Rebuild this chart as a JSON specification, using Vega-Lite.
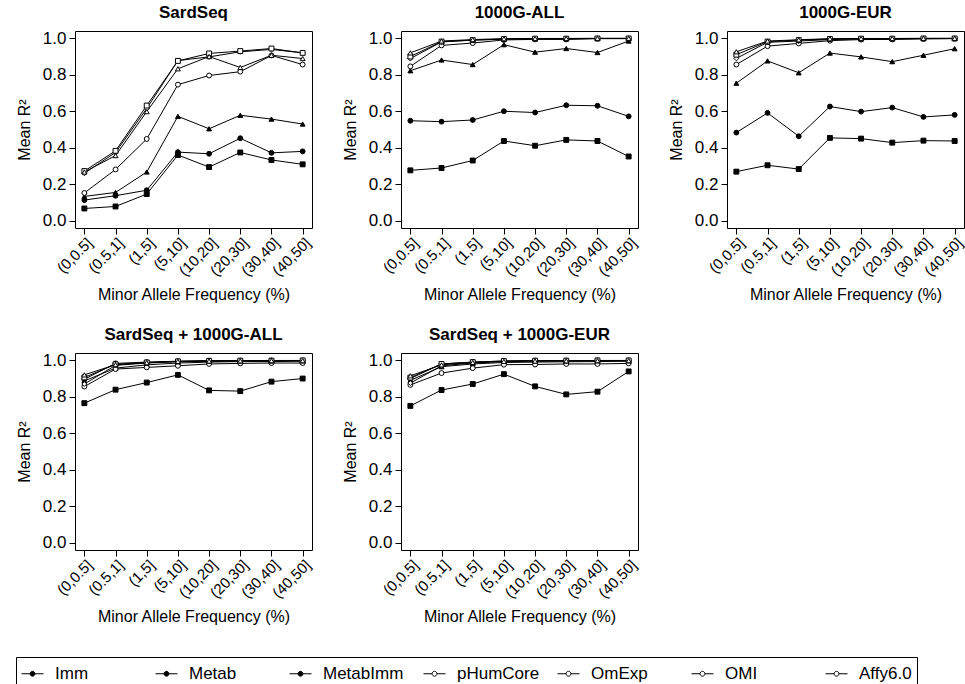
{
  "$schema": "https://vega.github.io/schema/vega-lite/v6.json",
  "padding": {"left": 15, "top": 3, "right": 2, "bottom": 0},
  "config": {
    "font": "Liberation Sans",
    "view": {"stroke": "black", "strokeWidth": 1},
    "axis": {"domain": false, "grid": false, "tickColor": "black", "tickSize": 6, "labelColor": "black", "titleColor": "black", "labelFontSize": 17, "titleFontSize": 16, "titleFontWeight": "normal", "labelPadding": 3},
    "header": {"labelColor": "black"}
  },
  "data": {"values": [
    {"p":"SardSeq","s":"Imm","f":"(0,0.5]","v":0.067},{"p":"SardSeq","s":"Imm","f":"(0.5,1]","v":0.078},{"p":"SardSeq","s":"Imm","f":"(1,5]","v":0.146},{"p":"SardSeq","s":"Imm","f":"(5,10]","v":0.36},{"p":"SardSeq","s":"Imm","f":"(10,20]","v":0.294},{"p":"SardSeq","s":"Imm","f":"(20,30]","v":0.374},{"p":"SardSeq","s":"Imm","f":"(30,40]","v":0.333},{"p":"SardSeq","s":"Imm","f":"(40,50]","v":0.309},
    {"p":"SardSeq","s":"Metab","f":"(0,0.5]","v":0.113},{"p":"SardSeq","s":"Metab","f":"(0.5,1]","v":0.137},{"p":"SardSeq","s":"Metab","f":"(1,5]","v":0.167},{"p":"SardSeq","s":"Metab","f":"(5,10]","v":0.376},{"p":"SardSeq","s":"Metab","f":"(10,20]","v":0.367},{"p":"SardSeq","s":"Metab","f":"(20,30]","v":0.452},{"p":"SardSeq","s":"Metab","f":"(30,40]","v":0.372},{"p":"SardSeq","s":"Metab","f":"(40,50]","v":0.38},
    {"p":"SardSeq","s":"MetabImm","f":"(0,0.5]","v":0.133},{"p":"SardSeq","s":"MetabImm","f":"(0.5,1]","v":0.155},{"p":"SardSeq","s":"MetabImm","f":"(1,5]","v":0.267},{"p":"SardSeq","s":"MetabImm","f":"(5,10]","v":0.572},{"p":"SardSeq","s":"MetabImm","f":"(10,20]","v":0.504},{"p":"SardSeq","s":"MetabImm","f":"(20,30]","v":0.578},{"p":"SardSeq","s":"MetabImm","f":"(30,40]","v":0.557},{"p":"SardSeq","s":"MetabImm","f":"(40,50]","v":0.53},
    {"p":"SardSeq","s":"pHumCore","f":"(0,0.5]","v":0.152},{"p":"SardSeq","s":"pHumCore","f":"(0.5,1]","v":0.281},{"p":"SardSeq","s":"pHumCore","f":"(1,5]","v":0.448},{"p":"SardSeq","s":"pHumCore","f":"(5,10]","v":0.746},{"p":"SardSeq","s":"pHumCore","f":"(10,20]","v":0.796},{"p":"SardSeq","s":"pHumCore","f":"(20,30]","v":0.817},{"p":"SardSeq","s":"pHumCore","f":"(30,40]","v":0.906},{"p":"SardSeq","s":"pHumCore","f":"(40,50]","v":0.856},
    {"p":"SardSeq","s":"OmExp","f":"(0,0.5]","v":0.26},{"p":"SardSeq","s":"OmExp","f":"(0.5,1]","v":0.374},{"p":"SardSeq","s":"OmExp","f":"(1,5]","v":0.615},{"p":"SardSeq","s":"OmExp","f":"(5,10]","v":0.878},{"p":"SardSeq","s":"OmExp","f":"(10,20]","v":0.898},{"p":"SardSeq","s":"OmExp","f":"(20,30]","v":0.926},{"p":"SardSeq","s":"OmExp","f":"(30,40]","v":0.939},{"p":"SardSeq","s":"OmExp","f":"(40,50]","v":0.92},
    {"p":"SardSeq","s":"OMI","f":"(0,0.5]","v":0.272},{"p":"SardSeq","s":"OMI","f":"(0.5,1]","v":0.383},{"p":"SardSeq","s":"OMI","f":"(1,5]","v":0.631},{"p":"SardSeq","s":"OMI","f":"(5,10]","v":0.876},{"p":"SardSeq","s":"OMI","f":"(10,20]","v":0.917},{"p":"SardSeq","s":"OMI","f":"(20,30]","v":0.93},{"p":"SardSeq","s":"OMI","f":"(30,40]","v":0.944},{"p":"SardSeq","s":"OMI","f":"(40,50]","v":0.92},
    {"p":"SardSeq","s":"Affy6.0","f":"(0,0.5]","v":0.267},{"p":"SardSeq","s":"Affy6.0","f":"(0.5,1]","v":0.357},{"p":"SardSeq","s":"Affy6.0","f":"(1,5]","v":0.598},{"p":"SardSeq","s":"Affy6.0","f":"(5,10]","v":0.833},{"p":"SardSeq","s":"Affy6.0","f":"(10,20]","v":0.9},{"p":"SardSeq","s":"Affy6.0","f":"(20,30]","v":0.84},{"p":"SardSeq","s":"Affy6.0","f":"(30,40]","v":0.907},{"p":"SardSeq","s":"Affy6.0","f":"(40,50]","v":0.889},

    {"p":"1000G-ALL","s":"Imm","f":"(0,0.5]","v":0.276},{"p":"1000G-ALL","s":"Imm","f":"(0.5,1]","v":0.289},{"p":"1000G-ALL","s":"Imm","f":"(1,5]","v":0.33},{"p":"1000G-ALL","s":"Imm","f":"(5,10]","v":0.437},{"p":"1000G-ALL","s":"Imm","f":"(10,20]","v":0.411},{"p":"1000G-ALL","s":"Imm","f":"(20,30]","v":0.443},{"p":"1000G-ALL","s":"Imm","f":"(30,40]","v":0.437},{"p":"1000G-ALL","s":"Imm","f":"(40,50]","v":0.352},
    {"p":"1000G-ALL","s":"Metab","f":"(0,0.5]","v":0.548},{"p":"1000G-ALL","s":"Metab","f":"(0.5,1]","v":0.543},{"p":"1000G-ALL","s":"Metab","f":"(1,5]","v":0.552},{"p":"1000G-ALL","s":"Metab","f":"(5,10]","v":0.6},{"p":"1000G-ALL","s":"Metab","f":"(10,20]","v":0.593},{"p":"1000G-ALL","s":"Metab","f":"(20,30]","v":0.633},{"p":"1000G-ALL","s":"Metab","f":"(30,40]","v":0.63},{"p":"1000G-ALL","s":"Metab","f":"(40,50]","v":0.572},
    {"p":"1000G-ALL","s":"MetabImm","f":"(0,0.5]","v":0.822},{"p":"1000G-ALL","s":"MetabImm","f":"(0.5,1]","v":0.881},{"p":"1000G-ALL","s":"MetabImm","f":"(1,5]","v":0.856},{"p":"1000G-ALL","s":"MetabImm","f":"(5,10]","v":0.965},{"p":"1000G-ALL","s":"MetabImm","f":"(10,20]","v":0.924},{"p":"1000G-ALL","s":"MetabImm","f":"(20,30]","v":0.944},{"p":"1000G-ALL","s":"MetabImm","f":"(30,40]","v":0.922},{"p":"1000G-ALL","s":"MetabImm","f":"(40,50]","v":0.985},
    {"p":"1000G-ALL","s":"pHumCore","f":"(0,0.5]","v":0.846},{"p":"1000G-ALL","s":"pHumCore","f":"(0.5,1]","v":0.961},{"p":"1000G-ALL","s":"pHumCore","f":"(1,5]","v":0.974},{"p":"1000G-ALL","s":"pHumCore","f":"(5,10]","v":0.991},{"p":"1000G-ALL","s":"pHumCore","f":"(10,20]","v":0.994},{"p":"1000G-ALL","s":"pHumCore","f":"(20,30]","v":0.994},{"p":"1000G-ALL","s":"pHumCore","f":"(30,40]","v":0.998},{"p":"1000G-ALL","s":"pHumCore","f":"(40,50]","v":0.998},
    {"p":"1000G-ALL","s":"OmExp","f":"(0,0.5]","v":0.889},{"p":"1000G-ALL","s":"OmExp","f":"(0.5,1]","v":0.98},{"p":"1000G-ALL","s":"OmExp","f":"(1,5]","v":0.99},{"p":"1000G-ALL","s":"OmExp","f":"(5,10]","v":0.995},{"p":"1000G-ALL","s":"OmExp","f":"(10,20]","v":0.997},{"p":"1000G-ALL","s":"OmExp","f":"(20,30]","v":0.997},{"p":"1000G-ALL","s":"OmExp","f":"(30,40]","v":0.999},{"p":"1000G-ALL","s":"OmExp","f":"(40,50]","v":0.999},
    {"p":"1000G-ALL","s":"OMI","f":"(0,0.5]","v":0.9},{"p":"1000G-ALL","s":"OMI","f":"(0.5,1]","v":0.982},{"p":"1000G-ALL","s":"OMI","f":"(1,5]","v":0.99},{"p":"1000G-ALL","s":"OMI","f":"(5,10]","v":0.996},{"p":"1000G-ALL","s":"OMI","f":"(10,20]","v":0.998},{"p":"1000G-ALL","s":"OMI","f":"(20,30]","v":0.998},{"p":"1000G-ALL","s":"OMI","f":"(30,40]","v":0.999},{"p":"1000G-ALL","s":"OMI","f":"(40,50]","v":0.999},
    {"p":"1000G-ALL","s":"Affy6.0","f":"(0,0.5]","v":0.92},{"p":"1000G-ALL","s":"Affy6.0","f":"(0.5,1]","v":0.985},{"p":"1000G-ALL","s":"Affy6.0","f":"(1,5]","v":0.993},{"p":"1000G-ALL","s":"Affy6.0","f":"(5,10]","v":0.998},{"p":"1000G-ALL","s":"Affy6.0","f":"(10,20]","v":0.999},{"p":"1000G-ALL","s":"Affy6.0","f":"(20,30]","v":0.999},{"p":"1000G-ALL","s":"Affy6.0","f":"(30,40]","v":1.0},{"p":"1000G-ALL","s":"Affy6.0","f":"(40,50]","v":1.0},

    {"p":"1000G-EUR","s":"Imm","f":"(0,0.5]","v":0.269},{"p":"1000G-EUR","s":"Imm","f":"(0.5,1]","v":0.304},{"p":"1000G-EUR","s":"Imm","f":"(1,5]","v":0.283},{"p":"1000G-EUR","s":"Imm","f":"(5,10]","v":0.454},{"p":"1000G-EUR","s":"Imm","f":"(10,20]","v":0.45},{"p":"1000G-EUR","s":"Imm","f":"(20,30]","v":0.428},{"p":"1000G-EUR","s":"Imm","f":"(30,40]","v":0.439},{"p":"1000G-EUR","s":"Imm","f":"(40,50]","v":0.437},
    {"p":"1000G-EUR","s":"Metab","f":"(0,0.5]","v":0.483},{"p":"1000G-EUR","s":"Metab","f":"(0.5,1]","v":0.591},{"p":"1000G-EUR","s":"Metab","f":"(1,5]","v":0.463},{"p":"1000G-EUR","s":"Metab","f":"(5,10]","v":0.626},{"p":"1000G-EUR","s":"Metab","f":"(10,20]","v":0.598},{"p":"1000G-EUR","s":"Metab","f":"(20,30]","v":0.62},{"p":"1000G-EUR","s":"Metab","f":"(30,40]","v":0.569},{"p":"1000G-EUR","s":"Metab","f":"(40,50]","v":0.58},
    {"p":"1000G-EUR","s":"MetabImm","f":"(0,0.5]","v":0.754},{"p":"1000G-EUR","s":"MetabImm","f":"(0.5,1]","v":0.876},{"p":"1000G-EUR","s":"MetabImm","f":"(1,5]","v":0.811},{"p":"1000G-EUR","s":"MetabImm","f":"(5,10]","v":0.919},{"p":"1000G-EUR","s":"MetabImm","f":"(10,20]","v":0.898},{"p":"1000G-EUR","s":"MetabImm","f":"(20,30]","v":0.872},{"p":"1000G-EUR","s":"MetabImm","f":"(30,40]","v":0.907},{"p":"1000G-EUR","s":"MetabImm","f":"(40,50]","v":0.943},
    {"p":"1000G-EUR","s":"pHumCore","f":"(0,0.5]","v":0.856},{"p":"1000G-EUR","s":"pHumCore","f":"(0.5,1]","v":0.957},{"p":"1000G-EUR","s":"pHumCore","f":"(1,5]","v":0.972},{"p":"1000G-EUR","s":"pHumCore","f":"(5,10]","v":0.987},{"p":"1000G-EUR","s":"pHumCore","f":"(10,20]","v":0.993},{"p":"1000G-EUR","s":"pHumCore","f":"(20,30]","v":0.994},{"p":"1000G-EUR","s":"pHumCore","f":"(30,40]","v":0.997},{"p":"1000G-EUR","s":"pHumCore","f":"(40,50]","v":0.998},
    {"p":"1000G-EUR","s":"OmExp","f":"(0,0.5]","v":0.89},{"p":"1000G-EUR","s":"OmExp","f":"(0.5,1]","v":0.978},{"p":"1000G-EUR","s":"OmExp","f":"(1,5]","v":0.985},{"p":"1000G-EUR","s":"OmExp","f":"(5,10]","v":0.993},{"p":"1000G-EUR","s":"OmExp","f":"(10,20]","v":0.996},{"p":"1000G-EUR","s":"OmExp","f":"(20,30]","v":0.996},{"p":"1000G-EUR","s":"OmExp","f":"(30,40]","v":0.998},{"p":"1000G-EUR","s":"OmExp","f":"(40,50]","v":0.999},
    {"p":"1000G-EUR","s":"OMI","f":"(0,0.5]","v":0.91},{"p":"1000G-EUR","s":"OMI","f":"(0.5,1]","v":0.982},{"p":"1000G-EUR","s":"OMI","f":"(1,5]","v":0.99},{"p":"1000G-EUR","s":"OMI","f":"(5,10]","v":0.996},{"p":"1000G-EUR","s":"OMI","f":"(10,20]","v":0.998},{"p":"1000G-EUR","s":"OMI","f":"(20,30]","v":0.998},{"p":"1000G-EUR","s":"OMI","f":"(30,40]","v":0.999},{"p":"1000G-EUR","s":"OMI","f":"(40,50]","v":0.999},
    {"p":"1000G-EUR","s":"Affy6.0","f":"(0,0.5]","v":0.926},{"p":"1000G-EUR","s":"Affy6.0","f":"(0.5,1]","v":0.985},{"p":"1000G-EUR","s":"Affy6.0","f":"(1,5]","v":0.992},{"p":"1000G-EUR","s":"Affy6.0","f":"(5,10]","v":0.998},{"p":"1000G-EUR","s":"Affy6.0","f":"(10,20]","v":0.999},{"p":"1000G-EUR","s":"Affy6.0","f":"(20,30]","v":0.999},{"p":"1000G-EUR","s":"Affy6.0","f":"(30,40]","v":1.0},{"p":"1000G-EUR","s":"Affy6.0","f":"(40,50]","v":1.0},

    {"p":"SardSeq + 1000G-ALL","s":"Imm","f":"(0,0.5]","v":0.765},{"p":"SardSeq + 1000G-ALL","s":"Imm","f":"(0.5,1]","v":0.839},{"p":"SardSeq + 1000G-ALL","s":"Imm","f":"(1,5]","v":0.878},{"p":"SardSeq + 1000G-ALL","s":"Imm","f":"(5,10]","v":0.92},{"p":"SardSeq + 1000G-ALL","s":"Imm","f":"(10,20]","v":0.835},{"p":"SardSeq + 1000G-ALL","s":"Imm","f":"(20,30]","v":0.831},{"p":"SardSeq + 1000G-ALL","s":"Imm","f":"(30,40]","v":0.883},{"p":"SardSeq + 1000G-ALL","s":"Imm","f":"(40,50]","v":0.9},
    {"p":"SardSeq + 1000G-ALL","s":"Metab","f":"(0,0.5]","v":0.896},{"p":"SardSeq + 1000G-ALL","s":"Metab","f":"(0.5,1]","v":0.983},{"p":"SardSeq + 1000G-ALL","s":"Metab","f":"(1,5]","v":0.99},{"p":"SardSeq + 1000G-ALL","s":"Metab","f":"(5,10]","v":0.995},{"p":"SardSeq + 1000G-ALL","s":"Metab","f":"(10,20]","v":0.998},{"p":"SardSeq + 1000G-ALL","s":"Metab","f":"(20,30]","v":0.998},{"p":"SardSeq + 1000G-ALL","s":"Metab","f":"(30,40]","v":0.999},{"p":"SardSeq + 1000G-ALL","s":"Metab","f":"(40,50]","v":0.999},
    {"p":"SardSeq + 1000G-ALL","s":"MetabImm","f":"(0,0.5]","v":0.887},{"p":"SardSeq + 1000G-ALL","s":"MetabImm","f":"(0.5,1]","v":0.957},{"p":"SardSeq + 1000G-ALL","s":"MetabImm","f":"(1,5]","v":0.975},{"p":"SardSeq + 1000G-ALL","s":"MetabImm","f":"(5,10]","v":0.985},{"p":"SardSeq + 1000G-ALL","s":"MetabImm","f":"(10,20]","v":0.99},{"p":"SardSeq + 1000G-ALL","s":"MetabImm","f":"(20,30]","v":0.993},{"p":"SardSeq + 1000G-ALL","s":"MetabImm","f":"(30,40]","v":0.993},{"p":"SardSeq + 1000G-ALL","s":"MetabImm","f":"(40,50]","v":0.995},
    {"p":"SardSeq + 1000G-ALL","s":"pHumCore","f":"(0,0.5]","v":0.856},{"p":"SardSeq + 1000G-ALL","s":"pHumCore","f":"(0.5,1]","v":0.952},{"p":"SardSeq + 1000G-ALL","s":"pHumCore","f":"(1,5]","v":0.961},{"p":"SardSeq + 1000G-ALL","s":"pHumCore","f":"(5,10]","v":0.97},{"p":"SardSeq + 1000G-ALL","s":"pHumCore","f":"(10,20]","v":0.98},{"p":"SardSeq + 1000G-ALL","s":"pHumCore","f":"(20,30]","v":0.983},{"p":"SardSeq + 1000G-ALL","s":"pHumCore","f":"(30,40]","v":0.985},{"p":"SardSeq + 1000G-ALL","s":"pHumCore","f":"(40,50]","v":0.985},
    {"p":"SardSeq + 1000G-ALL","s":"OmExp","f":"(0,0.5]","v":0.87},{"p":"SardSeq + 1000G-ALL","s":"OmExp","f":"(0.5,1]","v":0.972},{"p":"SardSeq + 1000G-ALL","s":"OmExp","f":"(1,5]","v":0.985},{"p":"SardSeq + 1000G-ALL","s":"OmExp","f":"(5,10]","v":0.992},{"p":"SardSeq + 1000G-ALL","s":"OmExp","f":"(10,20]","v":0.995},{"p":"SardSeq + 1000G-ALL","s":"OmExp","f":"(20,30]","v":0.996},{"p":"SardSeq + 1000G-ALL","s":"OmExp","f":"(30,40]","v":0.997},{"p":"SardSeq + 1000G-ALL","s":"OmExp","f":"(40,50]","v":0.998},
    {"p":"SardSeq + 1000G-ALL","s":"OMI","f":"(0,0.5]","v":0.906},{"p":"SardSeq + 1000G-ALL","s":"OMI","f":"(0.5,1]","v":0.978},{"p":"SardSeq + 1000G-ALL","s":"OMI","f":"(1,5]","v":0.988},{"p":"SardSeq + 1000G-ALL","s":"OMI","f":"(5,10]","v":0.994},{"p":"SardSeq + 1000G-ALL","s":"OMI","f":"(10,20]","v":0.997},{"p":"SardSeq + 1000G-ALL","s":"OMI","f":"(20,30]","v":0.998},{"p":"SardSeq + 1000G-ALL","s":"OMI","f":"(30,40]","v":0.998},{"p":"SardSeq + 1000G-ALL","s":"OMI","f":"(40,50]","v":0.999},
    {"p":"SardSeq + 1000G-ALL","s":"Affy6.0","f":"(0,0.5]","v":0.92},{"p":"SardSeq + 1000G-ALL","s":"Affy6.0","f":"(0.5,1]","v":0.976},{"p":"SardSeq + 1000G-ALL","s":"Affy6.0","f":"(1,5]","v":0.987},{"p":"SardSeq + 1000G-ALL","s":"Affy6.0","f":"(5,10]","v":0.994},{"p":"SardSeq + 1000G-ALL","s":"Affy6.0","f":"(10,20]","v":0.996},{"p":"SardSeq + 1000G-ALL","s":"Affy6.0","f":"(20,30]","v":0.997},{"p":"SardSeq + 1000G-ALL","s":"Affy6.0","f":"(30,40]","v":0.998},{"p":"SardSeq + 1000G-ALL","s":"Affy6.0","f":"(40,50]","v":0.998},

    {"p":"SardSeq + 1000G-EUR","s":"Imm","f":"(0,0.5]","v":0.75},{"p":"SardSeq + 1000G-EUR","s":"Imm","f":"(0.5,1]","v":0.837},{"p":"SardSeq + 1000G-EUR","s":"Imm","f":"(1,5]","v":0.87},{"p":"SardSeq + 1000G-EUR","s":"Imm","f":"(5,10]","v":0.924},{"p":"SardSeq + 1000G-EUR","s":"Imm","f":"(10,20]","v":0.857},{"p":"SardSeq + 1000G-EUR","s":"Imm","f":"(20,30]","v":0.813},{"p":"SardSeq + 1000G-EUR","s":"Imm","f":"(30,40]","v":0.828},{"p":"SardSeq + 1000G-EUR","s":"Imm","f":"(40,50]","v":0.939},
    {"p":"SardSeq + 1000G-EUR","s":"Metab","f":"(0,0.5]","v":0.9},{"p":"SardSeq + 1000G-EUR","s":"Metab","f":"(0.5,1]","v":0.98},{"p":"SardSeq + 1000G-EUR","s":"Metab","f":"(1,5]","v":0.99},{"p":"SardSeq + 1000G-EUR","s":"Metab","f":"(5,10]","v":0.996},{"p":"SardSeq + 1000G-EUR","s":"Metab","f":"(10,20]","v":0.998},{"p":"SardSeq + 1000G-EUR","s":"Metab","f":"(20,30]","v":0.998},{"p":"SardSeq + 1000G-EUR","s":"Metab","f":"(30,40]","v":0.999},{"p":"SardSeq + 1000G-EUR","s":"Metab","f":"(40,50]","v":0.999},
    {"p":"SardSeq + 1000G-EUR","s":"MetabImm","f":"(0,0.5]","v":0.89},{"p":"SardSeq + 1000G-EUR","s":"MetabImm","f":"(0.5,1]","v":0.965},{"p":"SardSeq + 1000G-EUR","s":"MetabImm","f":"(1,5]","v":0.98},{"p":"SardSeq + 1000G-EUR","s":"MetabImm","f":"(5,10]","v":0.988},{"p":"SardSeq + 1000G-EUR","s":"MetabImm","f":"(10,20]","v":0.99},{"p":"SardSeq + 1000G-EUR","s":"MetabImm","f":"(20,30]","v":0.992},{"p":"SardSeq + 1000G-EUR","s":"MetabImm","f":"(30,40]","v":0.993},{"p":"SardSeq + 1000G-EUR","s":"MetabImm","f":"(40,50]","v":0.995},
    {"p":"SardSeq + 1000G-EUR","s":"pHumCore","f":"(0,0.5]","v":0.865},{"p":"SardSeq + 1000G-EUR","s":"pHumCore","f":"(0.5,1]","v":0.93},{"p":"SardSeq + 1000G-EUR","s":"pHumCore","f":"(1,5]","v":0.957},{"p":"SardSeq + 1000G-EUR","s":"pHumCore","f":"(5,10]","v":0.976},{"p":"SardSeq + 1000G-EUR","s":"pHumCore","f":"(10,20]","v":0.977},{"p":"SardSeq + 1000G-EUR","s":"pHumCore","f":"(20,30]","v":0.98},{"p":"SardSeq + 1000G-EUR","s":"pHumCore","f":"(30,40]","v":0.98},{"p":"SardSeq + 1000G-EUR","s":"pHumCore","f":"(40,50]","v":0.983},
    {"p":"SardSeq + 1000G-EUR","s":"OmExp","f":"(0,0.5]","v":0.875},{"p":"SardSeq + 1000G-EUR","s":"OmExp","f":"(0.5,1]","v":0.97},{"p":"SardSeq + 1000G-EUR","s":"OmExp","f":"(1,5]","v":0.985},{"p":"SardSeq + 1000G-EUR","s":"OmExp","f":"(5,10]","v":0.993},{"p":"SardSeq + 1000G-EUR","s":"OmExp","f":"(10,20]","v":0.996},{"p":"SardSeq + 1000G-EUR","s":"OmExp","f":"(20,30]","v":0.997},{"p":"SardSeq + 1000G-EUR","s":"OmExp","f":"(30,40]","v":0.998},{"p":"SardSeq + 1000G-EUR","s":"OmExp","f":"(40,50]","v":0.998},
    {"p":"SardSeq + 1000G-EUR","s":"OMI","f":"(0,0.5]","v":0.905},{"p":"SardSeq + 1000G-EUR","s":"OMI","f":"(0.5,1]","v":0.98},{"p":"SardSeq + 1000G-EUR","s":"OMI","f":"(1,5]","v":0.99},{"p":"SardSeq + 1000G-EUR","s":"OMI","f":"(5,10]","v":0.996},{"p":"SardSeq + 1000G-EUR","s":"OMI","f":"(10,20]","v":0.998},{"p":"SardSeq + 1000G-EUR","s":"OMI","f":"(20,30]","v":0.998},{"p":"SardSeq + 1000G-EUR","s":"OMI","f":"(30,40]","v":0.999},{"p":"SardSeq + 1000G-EUR","s":"OMI","f":"(40,50]","v":0.999},
    {"p":"SardSeq + 1000G-EUR","s":"Affy6.0","f":"(0,0.5]","v":0.915},{"p":"SardSeq + 1000G-EUR","s":"Affy6.0","f":"(0.5,1]","v":0.975},{"p":"SardSeq + 1000G-EUR","s":"Affy6.0","f":"(1,5]","v":0.988},{"p":"SardSeq + 1000G-EUR","s":"Affy6.0","f":"(5,10]","v":0.994},{"p":"SardSeq + 1000G-EUR","s":"Affy6.0","f":"(10,20]","v":0.996},{"p":"SardSeq + 1000G-EUR","s":"Affy6.0","f":"(20,30]","v":0.997},{"p":"SardSeq + 1000G-EUR","s":"Affy6.0","f":"(30,40]","v":0.998},{"p":"SardSeq + 1000G-EUR","s":"Affy6.0","f":"(40,50]","v":0.998}
  ]},
  "facet": {
    "field": "p", "type": "nominal",
    "sort": ["SardSeq", "1000G-ALL", "1000G-EUR", "SardSeq + 1000G-ALL", "SardSeq + 1000G-EUR"],
    "header": {"title": null, "labelFontSize": 17, "labelFontWeight": "bold", "labelFont": "Liberation Sans", "labelPadding": 7}
  },
  "columns": 3,
  "bounds": "flush",
  "spacing": {"column": 89, "row": 125},
  "resolve": {"axis": {"x": "independent", "y": "independent"}},
  "spec": {
    "width": 237,
    "height": 197,
    "encoding": {
      "x": {"field": "f", "type": "ordinal",
        "sort": ["(0,0.5]", "(0.5,1]", "(1,5]", "(5,10]", "(10,20]", "(20,30]", "(30,40]", "(40,50]"],
        "scale": {"type": "point", "padding": 0.3},
        "axis": {"title": "Minor Allele Frequency (%)", "labelAngle": -45, "labelFontSize": 15, "labelPadding": 1, "titlePadding": 8}},
      "y": {"field": "v", "type": "quantitative",
        "scale": {"domain": [-0.04, 1.04], "nice": false, "zero": false},
        "axis": {"title": "Mean R²", "values": [0, 0.2, 0.4, 0.6, 0.8, 1.0], "format": ".1f", "titlePadding": 10}}
    },
    "layer": [
      {"mark": {"type": "line", "color": "black", "strokeWidth": 1},
       "encoding": {"detail": {"field": "s"}}},
      {"mark": {"type": "point", "stroke": "black", "strokeWidth": 1, "opacity": 1, "size": 24},
       "encoding": {
         "shape": {"field": "s", "type": "nominal",
           "scale": {"domain": ["Affy6.0", "OMI", "OmExp", "pHumCore", "MetabImm", "Metab", "Imm"],
                     "range": ["triangle-up", "square", "diamond", "circle", "triangle-up", "circle", "square"]},
           "legend": null},
         "fill": {"field": "s", "type": "nominal",
           "scale": {"domain": ["Imm", "Metab", "MetabImm", "pHumCore", "OmExp", "OMI", "Affy6.0"],
                     "range": ["black", "black", "black", "white", "white", "white", "white"]},
           "legend": {"title": null, "orient": "none", "legendX": -59, "legendY": 626, "direction": "horizontal", "columns": 7,
             "gridAlign": "all", "columnPadding": 15, "labelFontSize": 17, "labelColor": "black",
             "symbolType": "M-1,0H-0.22M0.22,0H1M-0.22,0A0.22,0.22 0 1,1 0.22,0A0.22,0.22 0 1,1 -0.22,0Z",
             "symbolSize": 484, "symbolStrokeColor": "black", "symbolStrokeWidth": 1, "labelOffset": 11,
             "strokeColor": "black", "padding": 5,
             "encode": {"symbols": {"stroke": {"value": "black"}, "strokeWidth": {"value": 1}}}
           }}
       }}
    ]
  }
}
